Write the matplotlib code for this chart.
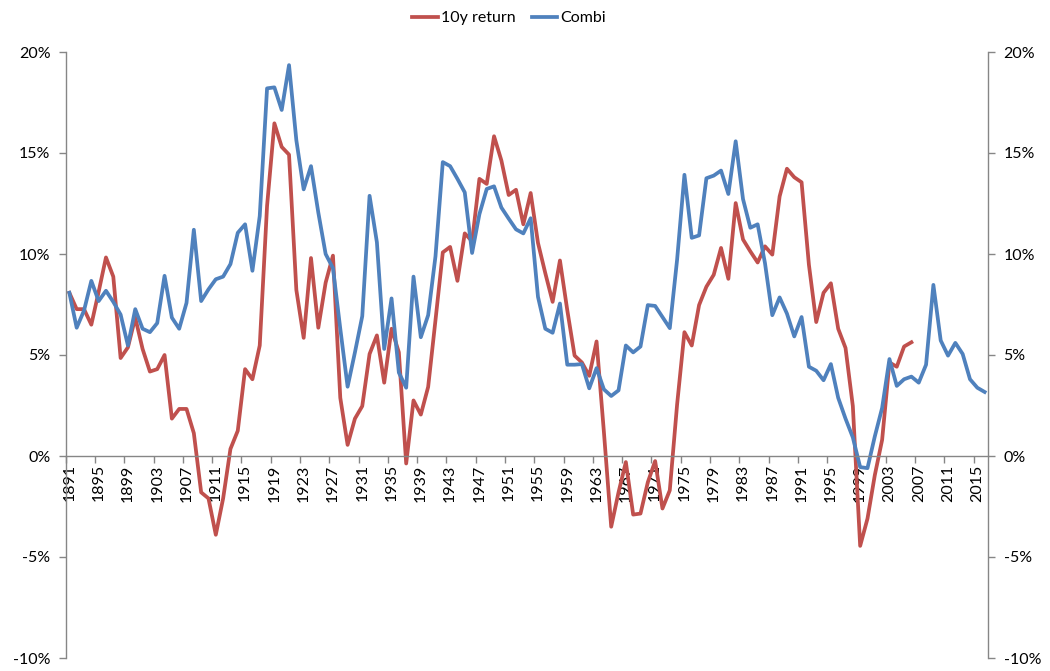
import numpy as np
import matplotlib
matplotlib.use("Agg")
import matplotlib.pyplot as plt
from matplotlib.ticker import FixedLocator, FuncFormatter

plt.rcParams['font.family'] = ['Lato', 'DejaVu Sans']

rod = "#C0504D"
bla = "#4F81BD"
grar = "#868686"

ar = np.arange(1891, 2017)

# Combi, % per year 1891-2016
combi = [8.08, 6.35, 7.2, 8.67, 7.67, 8.18, 7.63, 7.0, 5.47, 7.27,
         6.3, 6.13, 6.58, 8.92, 6.85, 6.3, 7.58, 11.2, 7.67, 8.25,
         8.75, 8.88, 9.5, 11.05, 11.47, 9.17, 11.88, 18.2, 18.25, 17.13,
         19.35, 15.63, 13.2, 14.35, 12.05, 10.0, 9.3, 6.3, 3.43, 5.13,
         6.92, 12.88, 10.58, 5.3, 7.8, 4.13, 3.38, 8.88, 5.88, 6.97,
         9.88, 14.55, 14.35, 13.72, 13.05, 10.05, 11.97, 13.22, 13.35, 12.3,
         11.75, 11.22, 11.02, 11.77, 7.88, 6.3, 6.1, 7.55, 4.52, 4.52,
         4.55, 3.35, 4.35, 3.3, 2.97, 3.25, 5.47, 5.13, 5.42, 7.47,
         7.43, 6.88, 6.33, 9.72, 13.92, 10.8, 10.92, 13.75, 13.88, 14.13,
         12.97, 15.58, 12.72, 11.3, 11.47, 9.55, 6.97, 7.85, 7.05, 5.92,
         6.88, 4.42, 4.22, 3.75, 4.55, 2.88, 1.85, 0.92, -0.55, -0.6,
         0.97, 2.38, 4.8, 3.47, 3.8, 3.93, 3.63, 4.52, 8.47, 5.72,
         4.97, 5.6, 5.05, 3.8, 3.38, 3.17]

# 10y return, % per year 1891-2006
tiu_ar = [8.08, 7.27, 7.27, 6.5, 8.13, 9.83, 8.88, 4.85, 5.38, 6.85,
          5.3, 4.18, 4.3, 5.0, 1.85, 2.33, 2.33, 1.13, -1.8, -2.1,
          -3.9, -2.1, 0.35, 1.25, 4.3, 3.8, 5.47, 12.38, 16.47, 15.3,
          14.92, 8.22, 5.85, 9.8, 6.35, 8.58, 9.92, 2.88, 0.55, 1.85,
          2.47, 5.05, 5.97, 3.63, 6.3, 5.13, -0.37, 2.75, 2.05, 3.42,
          6.72, 10.08, 10.35, 8.67, 11.02, 10.63, 13.72, 13.47, 15.83, 14.63,
          12.92, 13.18, 11.47, 13.02, 10.55, 9.05, 7.63, 9.68, 7.22, 4.97,
          4.63, 3.97, 5.67, 1.2, -3.5, -1.8, -0.3, -2.9, -2.85, -1.3,
          -0.25, -2.6, -1.7, 2.55, 6.13, 5.47, 7.47, 8.38, 8.97, 10.3,
          8.77, 12.52, 10.72, 10.13, 9.58, 10.38, 9.97, 12.85, 14.22, 13.8,
          13.55, 9.47, 6.63, 8.08, 8.55, 6.3, 5.35, 2.47, -4.45, -3.1,
          -0.95, 0.8, 4.63, 4.42, 5.42, 5.63]

x = np.arange(len(ar))

fig = plt.figure(figsize=(10.5, 6.71), dpi=100)
ax = fig.add_axes([65.7 / 1050, 1 - 658 / 671, (988.3 - 65.7) / 1050, (658 - 52) / 671])

ax.plot(x[:len(tiu_ar)], tiu_ar, color=rod, lw=2.7, label="10y return", solid_joinstyle="round")
ax.plot(x, combi, color=bla, lw=2.7, label="Combi", solid_joinstyle="round")

ax.set_xlim(-0.5, len(ar) - 0.5)
ax.set_ylim(-10, 20)
ax.set_yticks(np.arange(-10, 21, 5))
ax.yaxis.set_major_formatter(FuncFormatter(lambda v, p: f"{v:.0f}%"))
ax.tick_params(axis="y", which="major", direction="out", length=5, width=1, color=grar,
               left=True, right=True, labelleft=True, labelright=True, labelsize=11.5, pad=6)

# category axis crosses at 0, tick marks between categories
ax.spines["bottom"].set_position(("data", 0))
ax.spines["top"].set_visible(False)
for s in ["left", "right", "bottom"]:
    ax.spines[s].set_color(grar)
    ax.spines[s].set_linewidth(1)
ax.xaxis.set_major_locator(FixedLocator(np.arange(-0.5, len(ar) - 1, 4)))
ax.xaxis.set_major_formatter(FuncFormatter(lambda v, p: ""))
ax.xaxis.set_minor_locator(FixedLocator(x[::4]))
ax.xaxis.set_minor_formatter(FuncFormatter(lambda v, p: str(ar[int(round(v))])))
ax.tick_params(axis="x", which="major", direction="out", length=5, width=1, color=grar)
ax.tick_params(axis="x", which="minor", length=0, labelsize=11.5, labelrotation=90, pad=6)

fig.legend(loc="upper center", bbox_to_anchor=(0.485, 1.005), ncol=2, frameon=False,
           fontsize=11.5, handlelength=1.6, handletextpad=0.2, columnspacing=1.0)

fig.savefig("out.png", dpi=100)
